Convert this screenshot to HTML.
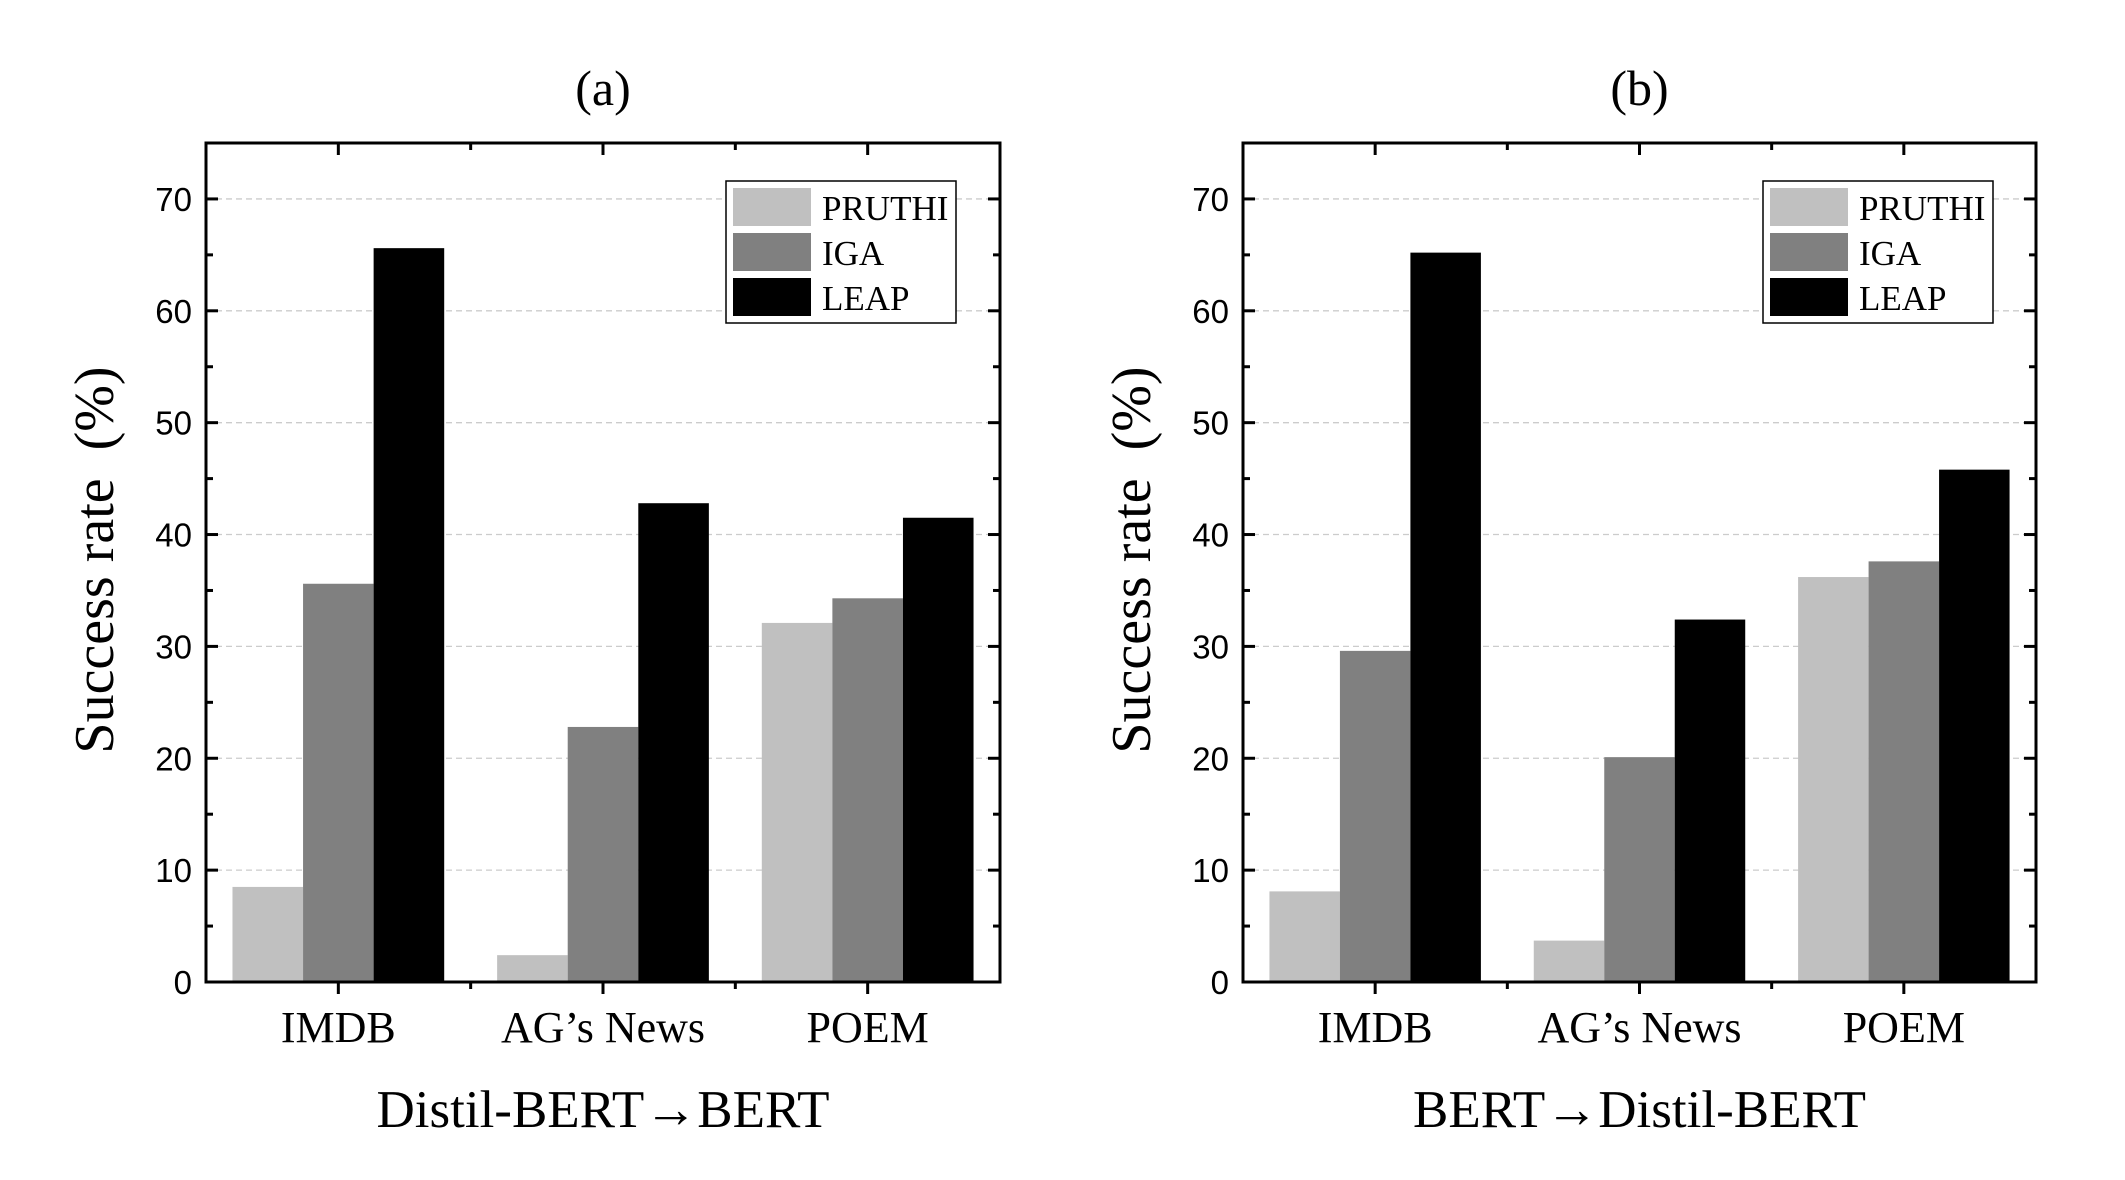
<!DOCTYPE html>
<html><head><meta charset="utf-8"><style>
html,body{margin:0;padding:0;background:#fff;}
svg{display:block;}
</style></head><body>
<svg id="chart" width="2125" height="1180" viewBox="0 0 2125 1180" xmlns="http://www.w3.org/2000/svg"></svg>
<script>
const categories = ["IMDB", "AG\u2019s News", "POEM"];
const seriesNames = ["PRUTHI", "IGA", "LEAP"];
const seriesColors = ["#c0c0c0", "#808080", "#000000"];
const panelA_pruthi = [8.5, 2.4, 32.1];
const panelA_iga = [35.6, 22.8, 34.3];
const panelA_leap = [65.6, 42.8, 41.5];
const panelB_pruthi = [8.1, 3.7, 36.2];
const panelB_iga = [29.6, 20.1, 37.6];
const panelB_leap = [65.2, 32.4, 45.8];
const yTicks = [0, 10, 20, 30, 40, 50, 60, 70];
const panelTitles = ["(a)", "(b)"];
const xTitles = ["Distil-BERT\u2192BERT", "BERT\u2192Distil-BERT"];

const NS = "http://www.w3.org/2000/svg";
const svg = document.getElementById("chart");
function mk(tag, attrs, parent){
  const e = document.createElementNS(NS, tag);
  for (const k in attrs) e.setAttribute(k, attrs[k]);
  (parent||svg).appendChild(e);
  return e;
}
const TOP = 143, BOT = 982, YMAX = 75;
function yScale(v){ return BOT - v/YMAX*(BOT-TOP); }

function drawPanel(idx, left, right, data){
  const g = mk("g", {});
  
  
  const W = right-left, gw = W/3, bw = gw*0.8/3;
  const xc = i => left + gw*(i+0.5);
  yTicks.forEach(t => {
    if (t===0) return;
    const gl = mk("line", {x1:left, x2:right, y1:yScale(t), y2:yScale(t), stroke:"#cccccc", "stroke-width":1.3, "stroke-dasharray":"6,4"}, g);
    
    
  });
  data.forEach((series, s) => {
    series.forEach((v, i) => {
      const x = xc(i) - 1.5*bw + s*bw;
      const r = mk("rect", {x:x, y:yScale(v), width:bw, height:yScale(0)-yScale(v), fill:seriesColors[s]}, g);
      
      
    });
  });
  const fr = mk("rect", {x:left, y:TOP, width:W, height:BOT-TOP, fill:"none", stroke:"#000", "stroke-width":3}, g);
  
  
  for (let v=0; v<75; v+=5){
    const y = yScale(v), len = v%10===0 ? 12 : 7;
    mk("line", {x1:left, x2:left+len, y1:y, y2:y, stroke:"#000", "stroke-width":3}, g);
    mk("line", {x1:right, x2:right-len, y1:y, y2:y, stroke:"#000", "stroke-width":3}, g);
  }
  yTicks.forEach(t => {
    const tl = mk("text", {x:left-14, y:yScale(t)+12, "text-anchor":"end", "font-family":"Liberation Sans, sans-serif", "font-size":33}, g);
    tl.textContent = t;
    
    
  });
  for (let i=0;i<3;i++){
    mk("line", {x1:xc(i), x2:xc(i), y1:BOT, y2:BOT+12, stroke:"#000", "stroke-width":3}, g);
    mk("line", {x1:xc(i), x2:xc(i), y1:TOP, y2:TOP+12, stroke:"#000", "stroke-width":3}, g);
    const lb = mk("text", {x:xc(i), y:1042, "text-anchor":"middle", "font-family":"Liberation Serif, serif", "font-size":44}, g);
    lb.textContent = categories[i];
    
    
  }
  for (let i=1;i<3;i++){
    const x = left+gw*i;
    mk("line", {x1:x, x2:x, y1:BOT, y2:BOT+7, stroke:"#000", "stroke-width":3}, g);
    mk("line", {x1:x, x2:x, y1:TOP, y2:TOP+7, stroke:"#000", "stroke-width":3}, g);
  }
  const cx = (left+right)/2;
  const pt = mk("text", {x:cx, y:105, "text-anchor":"middle", "font-family":"Liberation Serif, serif", "font-size":50}, g);
  pt.textContent = panelTitles[idx];
  
  
  const xt = mk("text", {x:cx, y:1127, "text-anchor":"middle", "font-family":"Liberation Serif, serif", "font-size":53}, g);
  xt.textContent = xTitles[idx];
  
  
  const yx = left-93, yy = 560;
  const yt = mk("text", {x:yx, y:yy, "text-anchor":"middle", "font-family":"Liberation Serif, serif", "font-size":56, transform:`rotate(-90 ${yx} ${yy})`}, g);
  yt.textContent = "Success rate\u2002(%)";
  
  
  const lx = left+520, ly = 181;
  const lg = mk("g", {}, g);
  
  
  mk("rect", {x:lx, y:ly, width:230, height:142, fill:"#fff", stroke:"#000", "stroke-width":1.5}, lg);
  seriesNames.forEach((n, s) => {
    const e = mk("g", {}, lg);
    
    
    mk("rect", {x:lx+7, y:ly+7+s*45, width:78, height:38, fill:seriesColors[s]}, e);
    const t = mk("text", {x:lx+96, y:ly+39+s*45, "font-family":"Liberation Serif, serif", "font-size":35}, e);
    t.textContent = n;
  });
}
drawPanel(0, 206, 1000, [panelA_pruthi, panelA_iga, panelA_leap]);
drawPanel(1, 1243, 2036, [panelB_pruthi, panelB_iga, panelB_leap]);
</script>
</body></html>
